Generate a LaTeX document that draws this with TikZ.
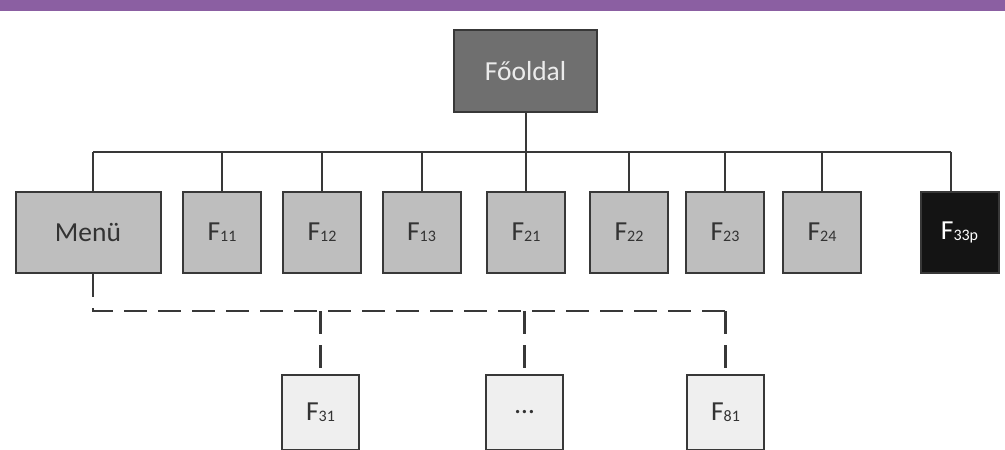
\documentclass[tikz,border=0pt]{standalone}
\usepackage{fontspec}
\setmainfont{Carlito}
\definecolor{barpurple}{HTML}{8B5FA2}
\definecolor{topfill}{HTML}{6F6F6F}
\definecolor{midfill}{HTML}{BEBEBE}
\definecolor{lowfill}{HTML}{EFEFEF}
\definecolor{edge}{HTML}{383838}
\newcommand{\fsb}[1]{F\raisebox{-1pt}{\fontsize{16}{16}\selectfont #1}}
\tikzset{
  box/.style={draw=edge, line width=2pt, rectangle, inner sep=0pt, minimum width=78pt, minimum height=81pt, fill=midfill, text=black!80, font=\fontsize{27.5}{27.5}\selectfont},
  topbox/.style={box, fill=topfill, text=black!8, minimum width=143pt, minimum height=82pt},
  darkbox/.style={box, fill=black!92, text=white},
  lowbox/.style={box, fill=lowfill, minimum width=77pt, minimum height=75pt},
  conn/.style={draw=edge, line width=2pt},
  dconn/.style={draw=edge, line width=2.5pt, dash pattern=on 23pt off 11pt}
}
\begin{document}
\begin{tikzpicture}[x=1pt,y=-1pt]
\useasboundingbox (0,0) rectangle (1005,450);
\fill[barpurple] (0,0) rectangle (1005,11);
\node[topbox] (fo) at (525.5,71) {Főoldal};
\node[box, minimum width=145pt] (m) at (88,232.5) {Menü};
\node[box] (f11) at (222,232.5) {\fsb{11}};
\node[box] (f12) at (322,232.5) {\fsb{12}};
\node[box] (f13) at (421.5,232.5) {\fsb{13}};
\node[box] (f21) at (526,232.5) {\fsb{21}};
\node[box] (f22) at (629,232.5) {\fsb{22}};
\node[box] (f23) at (725,232.5) {\fsb{23}};
\node[box] (f24) at (822,232.5) {\fsb{24}};
\node[darkbox] (f33) at (959.5,232.5) {\fsb{33p}};
\node[lowbox] (f31) at (320.5,412) {\fsb{31}};
\node[lowbox] (dots) at (524.5,412) {\dots};
\node[lowbox] (f81) at (725.5,412) {\fsb{81}};
\coordinate (busL) at (93,152);
\coordinate (busR) at (951,152);
\coordinate (dL) at (93,311);
\coordinate (dR) at (725.5,311);
\draw[conn] (fo.south) -- (fo.south |- busL);
\draw[conn] (busL) -- (busR);
\draw[conn] ([xshift=5pt]m.north) -- ([xshift=5pt]m.north |- busL);
\foreach \n in {f11,f12,f13,f21,f22,f23,f24}{
  \draw[conn] (\n.north) -- (\n.north |- busL);
}
\draw[conn] ([xshift=-8.5pt]f33.north) -- ([xshift=-8.5pt]f33.north |- busR);
\draw[dconn] ([xshift=5pt]m.south) -- (dL) -- (dR);
\foreach \n in {f31,dots,f81}{
  \draw[dconn] (\n.north |- dL) -- (\n.north);
}
\end{tikzpicture}
\end{document}
